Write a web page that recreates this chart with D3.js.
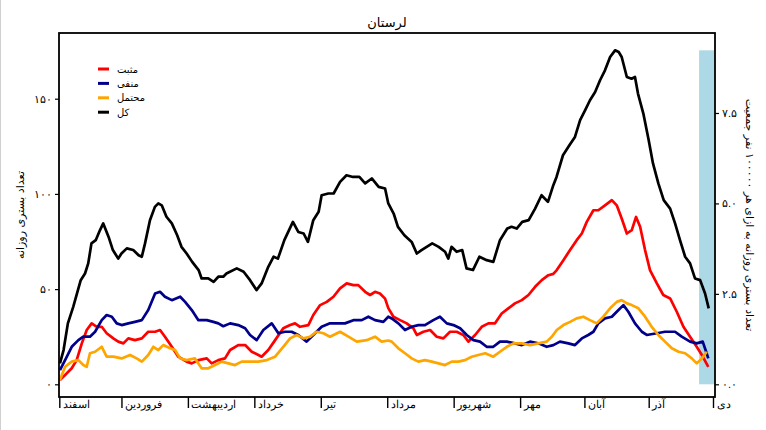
<!DOCTYPE html>
<html>
<head>
<meta charset="utf-8">
<script src="https://cdn.jsdelivr.net/npm/d3@7"></script>
<style>
  body { margin: 0; background: #fff; }
  svg { display: block; font-family: "DejaVu Sans", sans-serif; }
</style>
</head>
<body>
<div id="chart"></div>
<script>
// Days counted from 1 Esfand 1398
const monthStarts = [0, 29, 60, 91, 122, 153, 184, 215, 245, 275, 305];
const monthLabels = ['اسفند', 'فروردین', 'اردیبهشت', 'خرداد', 'تیر', 'مرداد', 'شهریور', 'مهر', 'آبان', 'آذر', 'دی'];

const leftTicks = [0, 50, 100, 150];
const rightTicks = [0, 2.5, 5, 7.5];
const perCapitaFactor = 19.0; // daily count per 1 unit on the right axis

const seriesNames = ['مثبت', 'منفی', 'محتمل', 'کل'];
const seriesColors = ['#ff0000', '#00008b', '#ffa500', '#000000'];

const highlightDays = [298.5, 305.8];

// [day, value]
const positive = [[0.3,2.3],[2.7,4.9],[5.8,8.4],[8.1,12.7],[10.5,21.5],[12.8,28.5],[15.1,32],[17.5,30.2],[19.8,30.2],[22.1,26.8],[25.2,24.1],[27.5,22.4],[29.9,21.5],[32.2,24.1],[35.3,23.2],[38.5,24.1],[41.5,27.6],[44.7,27.6],[47,28.5],[49.3,25],[52.5,19.7],[55.5,14.5],[59.4,11.9],[61.8,11],[64.9,12.7],[68.8,13.6],[71.1,11],[74.2,12.7],[77.3,13.6],[79.7,18],[83.5,20.6],[86.7,20.6],[89.8,17.1],[92.9,15.4],[94.4,14.5],[97.5,18],[100.7,23.2],[104.5,29.4],[107.7,31.1],[110,32],[112.3,30.2],[116.2,31.1],[118.5,36.4],[121.7,41.6],[124.8,43.3],[127.9,46],[131,50.4],[134.1,53],[137.2,52.1],[139.5,52.1],[142.7,48.6],[145,46.9],[147.3,48.6],[149.6,47.7],[152,45],[153.5,40],[155.9,35.5],[159,33.7],[162.1,32],[165.2,29.4],[166.8,25.9],[169.9,27.6],[173,28.5],[176.1,25],[179.2,24.1],[182.3,27.6],[185.4,27.6],[188.5,25.9],[190.9,22.4],[194,25.9],[197.1,30.2],[200.2,32],[203.3,32],[206.4,37.2],[209.5,39.9],[212.6,42.5],[215.8,44.2],[218.9,46.9],[222,51.2],[225.1,54.7],[228.2,57.3],[230.5,58],[232.1,60],[235.2,65.2],[238.3,70.5],[241.4,75.7],[243.8,79.2],[246.1,85.3],[249.2,91.4],[251.5,91.4],[254.6,94],[257.8,96.7],[260.1,94],[262.4,87.1],[264.8,79.2],[267.1,81],[269.1,87.9],[271,82.7],[273.3,70.5],[275.6,60],[278.8,53],[281.8,46.9],[285,45.1],[288.1,38.1],[291.2,30.2],[294.3,25],[297.4,19.7],[299.8,15.4],[302.8,9.2]];

const negative = [[0.3,7.5],[2.7,12.7],[5.8,19.7],[8.9,23.2],[11.2,25],[14.3,25],[16.7,27.6],[19.8,33.7],[22.1,36.4],[24.5,35.5],[26.8,32],[29.1,31.1],[32.2,32],[35.3,32.8],[38.5,33.7],[41.5,39],[44.7,47.7],[47,48.6],[49.3,46],[52.5,44.2],[56.4,46],[58.7,43.3],[61.8,39],[64.9,33.7],[68.8,33.7],[71.9,32.8],[74.2,32],[76.5,30.5],[79.7,32],[83.5,31.1],[86.7,29.4],[89,25.9],[92.1,23.2],[95.2,28.5],[99.1,32],[102.2,26.8],[105.3,27.6],[108.4,27.6],[111.5,25.9],[115.4,22.4],[118.5,25.9],[122.4,30.2],[126.3,32],[129.4,32],[133.3,32],[137.2,33.7],[141.1,33.7],[144.2,35.5],[147.3,33.7],[151.2,32.8],[153.5,35.5],[155.1,34.6],[158.2,32],[161.3,28.5],[164.4,30.2],[167.5,31.1],[170.6,31.1],[174.5,33.7],[177.6,35.5],[180.8,32],[183.9,31.1],[187,29.4],[190.1,25.9],[193.2,23.2],[196.3,22.4],[199.4,19.7],[202.5,19.7],[205.6,22.4],[208.8,22.4],[212.6,21.5],[215.8,20.6],[219.6,22.4],[223.5,21.5],[227.4,19.7],[230.5,20.6],[233.6,22.4],[237.5,21.5],[240.6,20.6],[243.8,24.1],[246.8,25.9],[249.2,27.6],[251.5,32],[254.6,34.6],[257.8,35.5],[260.9,39],[263.2,41.6],[265.5,38.1],[268.6,32],[271.8,27.6],[274.1,25.9],[278.8,26.8],[282.6,27.6],[287.3,27.6],[290.4,25],[294.3,22.4],[297.4,21.5],[300.2,22.4],[301.8,17.1],[302.8,13.6]];

const probable = [[0.3,2.3],[2.7,9.2],[5.8,11.9],[8.9,12.7],[11.2,10.1],[12.8,9.2],[14.3,16.3],[16.7,17.1],[19.8,19.7],[22.1,14.5],[25.2,14.5],[29.1,13.6],[33,15.4],[36.1,13.6],[38.5,11.9],[41.5,15.4],[43.9,19.7],[46.2,18],[48.5,20.6],[51.7,18.9],[54,18],[56.4,13.6],[59.4,12.7],[63.3,13.6],[66.4,8.4],[69.5,8.4],[72.7,10.1],[75.8,11.9],[78.9,11],[82,10.1],[85.1,11.9],[89,11.9],[92.9,11.9],[96.8,12.7],[100.7,14.5],[104.5,19.7],[107.7,24.1],[110.8,25.9],[113.9,24.1],[117,25],[120.1,27.6],[123.2,26.8],[126.3,25],[131,27.6],[134.9,25],[138.8,22.4],[143.4,23.2],[147.3,25],[150.4,22.4],[153.5,23],[155.1,22.4],[158.2,18.9],[161.3,16.3],[164.4,13.6],[167.5,11.9],[170.6,12.7],[173.8,11.9],[176.9,11],[180,10.1],[183.1,11.9],[186.2,11.9],[189.3,12.7],[192.4,14.5],[195.5,15.4],[198.7,16.3],[202.5,14.5],[205.6,17.1],[208.8,19.7],[211.9,21.5],[215.8,21.5],[219.6,20.6],[223.5,21.5],[227.4,22.4],[229.8,25],[232.1,28.5],[235.2,31.1],[238.3,32.8],[241.4,34.6],[244.5,35.5],[247.6,33.7],[250.7,32],[253.8,35.5],[257,39.9],[260.1,43.3],[262.4,44.2],[264.8,42.5],[267.1,41.6],[270.2,39.9],[273.3,35.5],[276.4,30.2],[279.5,25.9],[282.6,22.4],[285.8,18.9],[288.9,17.1],[292,16.3],[295.1,13.6],[297.4,11],[299.8,13.6],[302.1,17.1]];

const total = [[0.3,11],[2,18],[4,32],[6.5,40.7],[10,54.7],[12,58.2],[13.5,63.5],[15,74],[17,75.7],[19,81],[20.5,84.5],[23,77.4],[25,70.5],[27.5,66],[29,68.7],[31.5,71.4],[34.5,70.5],[37,67.8],[38.5,67],[40,74],[42.3,86.2],[44.6,93.2],[46.2,95],[47.8,94],[50,88],[52.5,84.5],[55,78.3],[57,72.2],[59.4,68.7],[62,64.3],[65,60],[66.4,55.6],[69.5,55.6],[72,53.8],[74.2,56.5],[76.5,56.5],[78,58.2],[82.8,60.9],[86,59.1],[89,54.7],[92,49.5],[94.4,53],[97.5,61.7],[100,67],[102,66],[105,75.7],[109,85.3],[111.5,80],[114,79.2],[116,74.8],[118.5,86.2],[121,90.6],[122.4,99.3],[125.5,100.2],[128,100.2],[131,106.3],[134,109.8],[137,108.9],[140,108.9],[142.7,105.5],[145.8,108.1],[149,103.7],[152,102.8],[153.5,95],[156,89.7],[158,82.7],[161,78.3],[164.4,74.8],[166.8,68.7],[169,70.5],[174,74],[177,72.2],[180,69.6],[181.5,66],[183,72.2],[185.4,69.6],[188,70.5],[190,60.9],[193,60],[196,67],[199.4,65.2],[202.5,64.3],[205.6,75.7],[209,81.8],[211,82.7],[213.4,81.8],[216,85.3],[219,86.2],[222,92.3],[225,99.3],[228,95.8],[230.5,104.6],[232,108.9],[235,120.3],[238,125.5],[240.6,129.9],[243,138.7],[245.3,143.9],[247.6,149.2],[250,153.5],[252.3,159.7],[254.6,164.9],[257,171.9],[259.3,175.4],[261,174.5],[262.4,171.9],[264.8,161.4],[267,160.5],[268.6,161.4],[270,152.7],[272.5,142.2],[275,128.2],[277,116],[279.5,105.5],[282,96.7],[285,92.3],[287.3,84.5],[289.6,75.7],[292,67],[294.3,63.5],[296.6,55.6],[299,54.7],[301.3,47.7],[303,39.9]];

const allSeries = [positive, negative, probable, total];

const width = 766;
const height = 430;
const panel = { left: 59, right: 715, top: 33, bottom: 397 };

const svg = d3.select('#chart')
    .append('svg')
    .attr('width', width)
    .attr('height', height);

// faint frame line on the left edge of the image
svg.append('line')
    .attr('x1', 0.5).attr('x2', 0.5)
    .attr('y1', 0).attr('y2', height)
    .attr('stroke', '#d0d0d0');

const x = d3.scaleLinear()
    .domain([0, 305])
    .range([59.3, 713]);

const y = d3.scaleLinear()
    .domain([0, 150])
    .range([384.3, 98.7]);

const y2 = d3.scaleLinear()
    .domain([0, 150 / perCapitaFactor])
    .range([384.3, 98.7]);

const toFa = s => String(s).replace(/\d/g, c => '۰۱۲۳۴۵۶۷۸۹'[c]);

// highlighted recent period
const totalMax = d3.max(total, d => d[1]);
svg.append('rect')
    .attr('x', x(highlightDays[0]))
    .attr('width', x(highlightDays[1]) - x(highlightDays[0]))
    .attr('y', y(totalMax))
    .attr('height', y(0) - y(totalMax))
    .attr('fill', '#add8e6');

const line = d3.line()
    .x(d => x(d[0]))
    .y(d => y(d[1]));

svg.selectAll('.series')
    .data(allSeries)
    .enter()
    .append('path')
    .attr('class', 'series')
    .attr('d', line)
    .attr('fill', 'none')
    .attr('stroke', (d, i) => seriesColors[i])
    .attr('stroke-width', 2.7)
    .attr('stroke-linejoin', 'round');

// panel border
svg.append('rect')
    .attr('x', panel.left)
    .attr('y', panel.top)
    .attr('width', panel.right - panel.left)
    .attr('height', panel.bottom - panel.top)
    .attr('fill', 'none')
    .attr('stroke', '#000')
    .attr('stroke-width', 1.8);

// left axis
const leftAxis = svg.append('g')
    .attr('transform', `translate(${panel.left},0)`)
    .call(d3.axisLeft(y).tickValues(leftTicks).tickSize(4).tickPadding(3).tickFormat(toFa));
leftAxis.select('.domain').remove();
leftAxis.selectAll('text').attr('font-size', 11).attr('fill', '#000');
leftAxis.selectAll('line').attr('stroke-width', 1.2);

// right axis
const rightAxis = svg.append('g')
    .attr('transform', `translate(${panel.right},0)`)
    .call(d3.axisRight(y2).tickValues(rightTicks).tickSize(4).tickPadding(3)
        .tickFormat(d => toFa(d3.format('.1f')(d))));
rightAxis.select('.domain').remove();
rightAxis.selectAll('text').attr('font-size', 11).attr('fill', '#000');
rightAxis.selectAll('line').attr('stroke-width', 1.2);

// bottom axis: month starts with labels to the right of the tick
const bottomAxis = svg.append('g')
    .attr('transform', `translate(0,${panel.bottom})`)
    .call(d3.axisBottom(x).tickValues(monthStarts).tickSize(11).tickFormat((d, i) => monthLabels[i]));
bottomAxis.select('.domain').remove();
bottomAxis.selectAll('line').attr('stroke-width', 1.4);
bottomAxis.selectAll('text')
    .attr('font-size', 10.5)
    .attr('fill', '#000')
    .attr('text-anchor', 'start')
    .attr('x', 3)
    .attr('y', 4)
    .attr('dy', '0.71em');

// titles
svg.append('text')
    .attr('x', (panel.left + panel.right) / 2)
    .attr('y', 27)
    .attr('text-anchor', 'middle')
    .attr('font-size', 13)
    .text('لرستان');

svg.append('text')
    .attr('transform', `translate(24,${(panel.top + panel.bottom) / 2}) rotate(-90)`)
    .attr('text-anchor', 'middle')
    .attr('font-size', 11)
    .text('تعداد بستری روزانه');

svg.append('text')
    .attr('transform', `translate(746,${(panel.top + panel.bottom) / 2}) rotate(90)`)
    .attr('text-anchor', 'middle')
    .attr('font-size', 11)
    .text('تعداد بستری روزانه به ازای هر ۱۰۰۰۰۰ نفر جمعیت');

// legend
const legend = svg.append('g')
    .attr('transform', 'translate(98,69)');

const legendItem = legend.selectAll('.legend-item')
    .data(seriesNames)
    .enter()
    .append('g')
    .attr('class', 'legend-item')
    .attr('transform', (d, i) => `translate(0,${i * 14.4})`);

legendItem.append('line')
    .attr('x1', 0).attr('x2', 11)
    .attr('stroke', (d, i) => seriesColors[i])
    .attr('stroke-width', 3);

legendItem.append('text')
    .attr('x', 19)
    .attr('dy', '0.35em')
    .attr('font-size', 10)
    .text(d => d);
</script>
</body>
</html>
